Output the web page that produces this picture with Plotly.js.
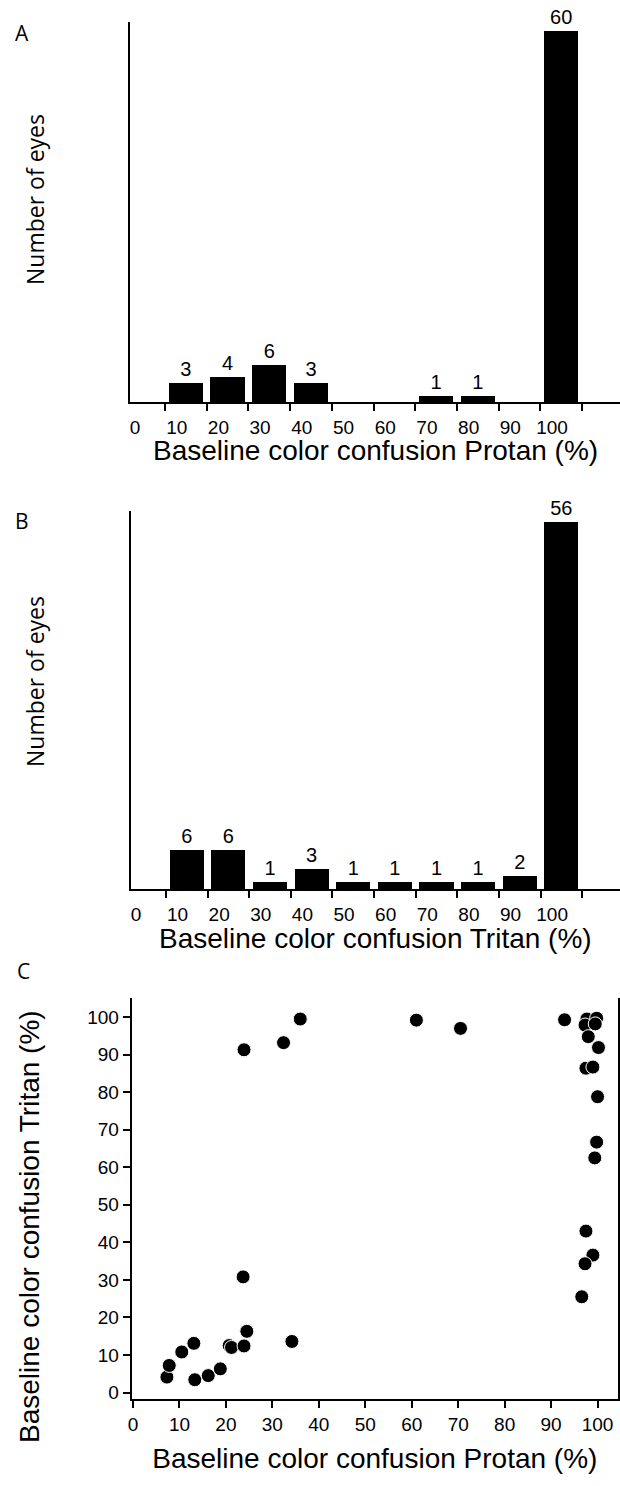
<!DOCTYPE html>
<html>
<head>
<meta charset="utf-8">
<script src="https://cdn.plot.ly/plotly-3.0.1.min.js"></script>
<style>html,body{margin:0;padding:0;background:#fff}#chart{width:620px;height:1486px}</style>
</head>
<body>
<div id="chart"></div>
<script>
// ---- data ----
var binCenters = [5, 15, 25, 35, 45, 55, 65, 75, 85, 95];
var protanCounts = [3, 4, 6, 3, 0, 0, 1, 1, 0, 60];
var tritanCounts = [6, 6, 1, 3, 1, 1, 1, 1, 2, 56];
var histTicks = [0, 10, 20, 30, 40, 50, 60, 70, 80, 90, 100];

var scatterProtan = [7.3, 7.8, 10.5, 13.1, 13.3, 16.2, 18.8, 20.7, 21.2, 23.9, 24.5, 34.2, 23.7,
  23.9, 32.4, 36.0, 61.0, 70.5, 92.9,
  97.7, 99.8, 97.3, 99.5, 98.0, 100.2, 97.5, 99.0,
  100.0, 99.8, 99.4, 97.5, 99.0, 97.3, 96.6];
var scatterTritan = [4.1, 7.2, 10.8, 13.1, 3.4, 4.5, 6.3, 12.5, 12.0, 12.4, 16.3, 13.6, 30.8,
  91.3, 93.2, 99.5, 99.2, 97.0, 99.3,
  99.5, 99.7, 97.9, 98.2, 94.8, 91.9, 86.4, 86.7,
  78.8, 66.7, 62.5, 43.0, 36.6, 34.3, 25.5];

var titleProtan = 'Baseline color confusion Protan (%)';
var titleTritan = 'Baseline color confusion Tritan (%)';
var titleCount = 'Number of eyes';

// ---- layout helpers ----
var W = 620, H = 1486;
function px2x(p){ return p / W; }
function py2y(p){ return 1 - p / H; }

var tickFont = {family: 'Liberation Sans, Arial, sans-serif', size: 19, color: '#000'};
var titleFont = {family: 'Liberation Sans, Arial, sans-serif', size: 28, color: '#000'};
var yTitleFont = {family: 'Open Sans, sans-serif', size: 23, color: '#000'};
var letterFont = {family: 'Open Sans, sans-serif', size: 21, color: '#000'};
var barTextFont = {family: 'Liberation Sans, Arial, sans-serif', size: 20, color: '#000'};

function labels(arr){ return arr.map(function(v){ return v > 0 ? String(v) : ''; }); }

var traces = [
  {type: 'bar', x: binCenters, y: protanCounts, width: 8.2, xaxis: 'x', yaxis: 'y',
   marker: {color: '#000', line: {width: 0}}, text: labels(protanCounts), textposition: 'outside',
   textfont: barTextFont, cliponaxis: false, hoverinfo: 'none'},
  {type: 'bar', x: binCenters, y: tritanCounts, width: 8.2, xaxis: 'x2', yaxis: 'y2',
   marker: {color: '#000', line: {width: 0}}, text: labels(tritanCounts), textposition: 'outside',
   textfont: barTextFont, cliponaxis: false, hoverinfo: 'none'},
  {type: 'scatter', mode: 'markers', x: scatterProtan, y: scatterTritan, xaxis: 'x3', yaxis: 'y3',
   marker: {color: '#000', size: 14, line: {color: '#fff', width: 1}}, cliponaxis: false, hoverinfo: 'none'}
];

var histX = function(domain){
  return {domain: domain, range: [-8.39, 109.1], tickvals: histTicks, ticks: 'outside', ticklen: 7, tickwidth: 2,
    tickcolor: '#000', showline: true, linecolor: '#000', linewidth: 2, showgrid: false, zeroline: false,
    tickfont: tickFont, ticklabelshift: -30, fixedrange: true};
};
var histY = function(domain, max){
  return {domain: domain, range: [0, max], showline: true, linecolor: '#000', linewidth: 2, showgrid: false,
    zeroline: false, showticklabels: false, ticks: '', fixedrange: true};
};

function ann(text, x, y, font, angle){
  return {text: text, xref: 'paper', yref: 'paper', x: px2x(x), y: py2y(y), textangle: angle || 0,
    showarrow: false, font: font, xanchor: 'center', yanchor: 'middle'};
}

var layout = {
  width: W, height: H, margin: {l: 0, r: 0, t: 0, b: 0}, showlegend: false,
  paper_bgcolor: '#fff', plot_bgcolor: '#fff', bargap: 0,
  xaxis: Object.assign(histX([px2x(130), 1]), {anchor: 'y'}),
  yaxis: Object.assign(histY([py2y(402), py2y(22)], 61.5), {anchor: 'x'}),
  xaxis2: Object.assign(histX([px2x(131), 1]), {anchor: 'y2'}),
  yaxis2: Object.assign(histY([py2y(889), py2y(511)], 57.7), {anchor: 'x2'}),
  xaxis3: {domain: [px2x(131.7), px2x(618)], range: [-0.28, 104.4], anchor: 'y3',
    tickvals: histTicks, ticks: 'outside', ticklen: 7, tickwidth: 2, tickcolor: '#000',
    showline: true, linecolor: '#000', linewidth: 2, showgrid: false, zeroline: false, tickfont: tickFont,
    title: {text: titleProtan, font: titleFont, standoff: 14}, fixedrange: true},
  yaxis3: {domain: [py2y(1399.3), py2y(998)], range: [-1.81, 105.1], anchor: 'x3',
    tickvals: histTicks, ticks: 'outside', ticklen: 7, tickwidth: 2, tickcolor: '#000',
    showline: true, mirror: true, linecolor: '#000', linewidth: 2, showgrid: false, zeroline: false, tickfont: tickFont,
    fixedrange: true},
  annotations: [
    ann(titleProtan, 375, 450, titleFont),
    ann(titleTritan, 375, 938, titleFont),
    ann(titleTritan, 29, 1227, titleFont, -90),
    ann(titleCount, 35, 200, yTitleFont, -90),
    ann(titleCount, 35, 682, yTitleFont, -90),
    ann('A', 22, 33, letterFont),
    ann('B', 22, 521, letterFont),
    ann('C', 23, 971, letterFont)
  ]
};

Plotly.newPlot('chart', traces, layout, {staticPlot: true, displayModeBar: false});
</script>
</body>
</html>
